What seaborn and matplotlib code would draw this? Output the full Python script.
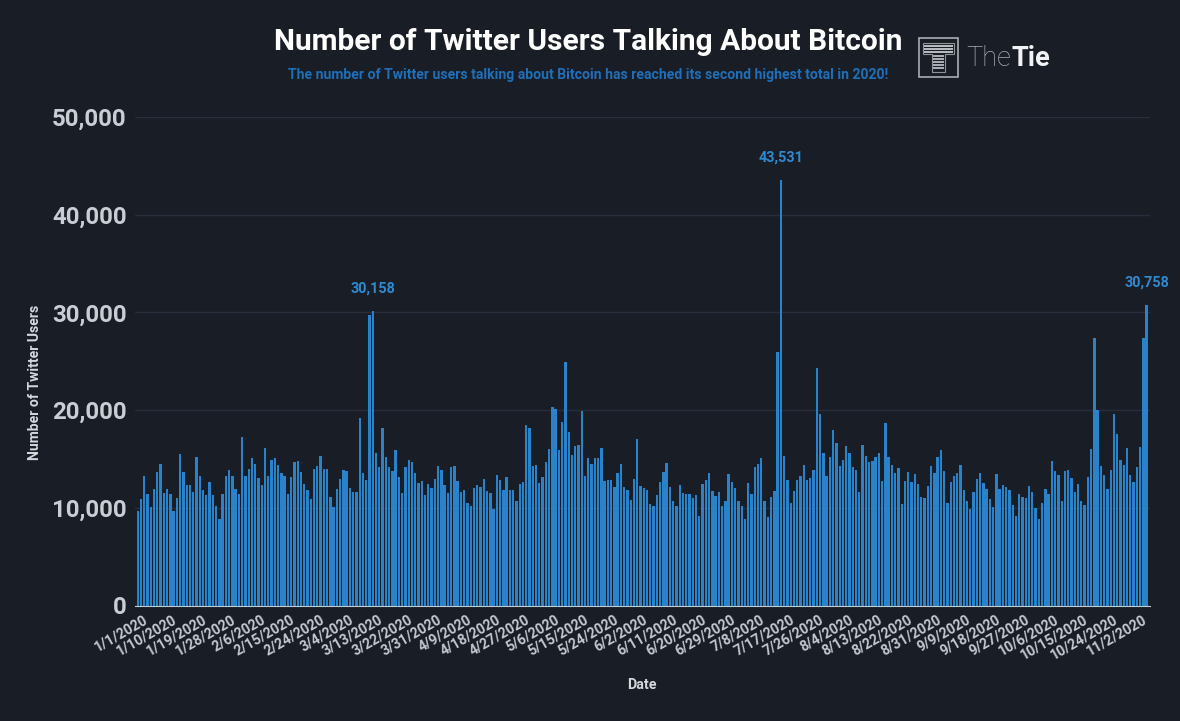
import matplotlib
matplotlib.use("Agg")
import matplotlib.pyplot as plt
from matplotlib.patches import Polygon, Rectangle
from matplotlib.transforms import ScaledTranslation
import pandas as pd
import seaborn as sns

# daily counts, 1/1/2020 onwards
USERS = [
    9720, 10850, 13300, 11400, 10130, 11900, 13700, 14460, 11500, 11970, 11460, 9650, 10980, 15480, 13700, 12300,
    12300, 11600, 15240, 13300, 11800, 11290, 12620, 11290, 10230, 8900, 11390, 13300, 13910, 13230, 11900, 11390,
    17220, 13300, 14020, 15140, 14460, 13000, 12380, 16100, 13300, 14870, 15140, 14360, 13540, 13300, 11390, 13130,
    14660, 14830, 13640, 12480, 11800, 10950, 13950, 14250, 15350, 14020, 14020, 11150, 10060, 11900, 12920, 13910,
    13740, 12000, 11600, 11600, 19160, 13540, 12820, 29730, 30158, 15580, 14150, 18140, 15170, 14220,
    13740, 15890, 13130, 11490, 14150, 14870, 14730, 13540, 12510, 12720, 11290, 12480, 12070, 12920, 14250, 13840,
    12310, 11490, 14150, 14250, 12720, 11590, 11800, 10540, 10160, 12070, 12310, 12100, 12920, 11700, 11490, 9850,
    13330, 12820, 11800, 13130, 11800, 11800, 10670, 12410, 12620, 18480, 18180, 14250, 14360, 12510, 13130, 14660,
    15990, 20320, 20120, 15920, 18790, 24960, 17770, 15380, 16300, 16400, 19950, 13260, 15070, 14460, 15070, 15070,
    16100, 12720, 12820, 12890, 12100, 13540, 14460, 12100, 11870, 10840, 12920, 17020,
    12210, 12000, 11800, 10430, 10160, 11290, 12690, 13640, 14560, 12100, 10740, 10160, 12310, 11490, 11390, 11390,
    10980, 11290, 9210, 12410, 12820, 13540, 11700, 11180, 11590, 10160, 10740, 13440, 12620, 12000, 10740, 10230,
    8900, 12510, 11390, 14150, 14460, 15070, 10740, 9100, 11080, 11700, 25980, 43531, 15280, 12820, 10470, 11700,
    12820, 13230, 14360, 12820, 13030, 13840, 24350, 19610, 15580, 13230, 15170, 17970, 16610, 14250, 14870, 16300,
    15580, 14150, 13840, 11590, 16400, 15280, 14660, 14770, 15170, 15580, 12720, 18650, 15170,
    14360, 13540, 14050, 10370, 12720, 13640, 12620, 13440, 12410, 11080, 10980, 12210, 14250, 13540, 15170, 15890,
    13740, 10470, 12620, 13230, 13540, 14360, 11800, 10670, 9850, 11590, 12920, 13540, 12510, 11900, 10880, 10060,
    13440, 11900, 12380, 12170, 11800, 10260, 9210, 11390, 11150, 11050, 12280, 11590, 9960, 8900, 10540, 11900,
    11390, 14770, 13740, 13330, 10740, 13740, 13840, 13030, 11590, 12410, 10670, 10330, 13130, 15990, 27350, 20020,
    14250, 13330, 11970, 13840, 19640, 17530, 14870, 14360, 16100, 13330, 12620, 14150, 16200, 27350, 30758,
]

TICK_LABELS = [
    "1/1/2020", "1/10/2020", "1/19/2020", "1/28/2020", "2/6/2020", "2/15/2020", "2/24/2020", "3/4/2020",
    "3/13/2020", "3/22/2020", "3/31/2020", "4/9/2020", "4/18/2020", "4/27/2020", "5/6/2020", "5/15/2020",
    "5/24/2020", "6/2/2020", "6/11/2020", "6/20/2020", "6/29/2020", "7/8/2020", "7/17/2020", "7/26/2020",
    "8/4/2020", "8/13/2020", "8/22/2020", "8/31/2020", "9/9/2020", "9/18/2020", "9/27/2020", "10/6/2020",
    "10/15/2020", "10/24/2020", "11/2/2020",
]
Y_TICKS = [0, 10000, 20000, 30000, 40000, 50000]
CALLOUTS = [30158, 43531, 30758]

BG = "#191d26"
BAR = "#2b88d4"
W, H = 1180, 721


def fx(px):
    return px / W


def fy(py):
    return 1 - py / H


def draw_logo(fig):
    fig.add_artist(Rectangle((fx(919), fy(77)), 39 / W, 39 / H, fill=False, ec="#a9adb3", lw=1.2))
    for py in [45, 48, 51]:
        fig.add_artist(Rectangle((fx(924), fy(py + 1.5)), 29 / W, 1.5 / H, fc="#b5b8bc", ec="none"))
    for py in [55, 58, 61, 64, 67]:
        fig.add_artist(Rectangle((fx(933), fy(py + 1.5)), 11 / W, 1.5 / H, fc="#a9adb3", ec="none"))
    outline = [(923, 43), (954, 43), (954, 54), (945, 54), (945, 72), (932, 72), (932, 54), (923, 54)]
    fig.add_artist(Polygon([(fx(x), fy(y)) for x, y in outline], closed=True, fill=False, ec="#8f9399", lw=0.8))
    fig.text(fx(966), fy(58), "The", color="#a9adb3", fontsize=19.5, family="Roboto", weight="light", va="center")
    fig.text(fx(1012), fy(58), "Tie", color="#f2f3f4", fontsize=19.5, family="Roboto", weight="bold", va="center")


def main():
    sns.set_theme(style="dark", rc={"axes.facecolor": BG, "figure.facecolor": BG})
    plt.rcParams["font.family"] = ["Roboto", "DejaVu Sans"]

    dates = pd.date_range("2020-01-01", periods=len(USERS))
    df = pd.DataFrame({"date": [f"{d.month}/{d.day}/{d.year}" for d in dates], "users": USERS})

    fig = plt.figure(figsize=(W / 100, H / 100), dpi=100)
    ax = fig.add_axes([fx(135), fy(605.5), (1150 - 135) / W, (605.5 - 117) / H])
    sns.barplot(data=df, x="date", y="users", color=BAR, saturation=1, width=0.72, linewidth=0, alpha=0.95,
                errorbar=None, ax=ax)

    pitch = (1146.6 - 137.7) / (len(USERS) - 1)
    ax.set_xlim((135 - 137.7) / pitch, len(USERS) - 1 + (1150 - 1146.6) / pitch)
    ax.set_ylim(0, 50000)
    ax.set_axisbelow(True)
    ax.grid(axis="y", color="#262e3c", lw=1)
    ax.grid(axis="x", visible=False)
    for side in ["top", "left", "right"]:
        ax.spines[side].set_visible(False)
    ax.spines["bottom"].set_color("#c4ccd4")
    ax.spines["bottom"].set_linewidth(0.8)

    order = df["date"].tolist()
    ax.set_xticks([order.index(t) for t in TICK_LABELS])
    ax.set_xticklabels(TICK_LABELS, rotation=30, ha="right", rotation_mode="anchor")
    ax.set_yticks(Y_TICKS)
    ax.set_yticklabels([f"{v:,}" for v in Y_TICKS])
    ax.tick_params(axis="x", length=0, pad=5, labelsize=10.2, labelcolor="#c2c8cf")
    ax.tick_params(axis="y", length=0, pad=6, labelsize=17.3, labelcolor="#c9ced4")
    shift = ScaledTranslation(5.5 / 100, 0, fig.dpi_scale_trans)
    for label in ax.get_xticklabels():
        label.set_fontweight("bold")
        label.set_transform(label.get_transform() + shift)
    for label in ax.get_yticklabels():
        label.set_fontweight("bold")

    for value in CALLOUTS:
        i = USERS.index(value)
        ax.annotate(f"{value:,}", (i, value), xytext=(0, 16), textcoords="offset points", ha="center",
                    va="center", color="#2f8ad2", fontsize=10.4, fontweight="bold", annotation_clip=False)

    fig.text(fx(35), fy(382), "Number of Twitter Users", rotation=90, ha="center", va="center",
             color="#d5d9de", fontsize=10.1, fontweight="bold")
    fig.text(fx(642), fy(685), "Date", ha="center", va="center", color="#d5d9de", fontsize=10.2, fontweight="bold")
    ax.set_xlabel("")
    ax.set_ylabel("")

    fig.text(fx(588), fy(42), "Number of Twitter Users Talking About Bitcoin", ha="center", va="center",
             color="white", fontsize=21.5, fontweight="bold")
    fig.text(fx(588), fy(75), "The number of Twitter users talking about Bitcoin has reached its second highest total in 2020!",
             ha="center", va="center", color="#1f6fb9", fontsize=10.1, fontweight="bold")
    draw_logo(fig)

    fig.savefig("out.png", dpi=100, facecolor=BG)
    plt.close(fig)


if __name__ == "__main__":
    main()
